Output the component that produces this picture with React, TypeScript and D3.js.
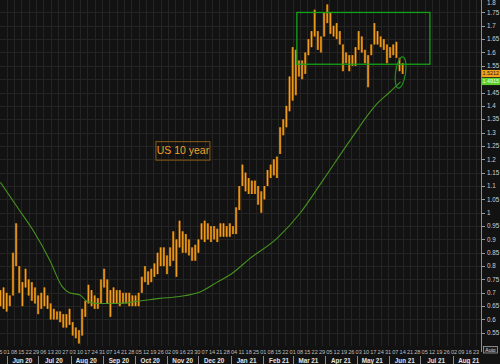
import React, { useRef, useEffect } from 'react';
import * as d3 from 'd3';

// US 10 year yield, one bar every 3 calendar days from 26 May 2020
const barStart = '2020-05-26';
const barStepDays = 3;
const barHigh = [
  0.71, 0.72, 0.70, 0.69, 0.85, 0.96, 0.80, 0.74, 0.79, 0.75,
  0.74, 0.72, 0.69, 0.70, 0.72, 0.69, 0.66, 0.64, 0.63, 0.63,
  0.62, 0.62, 0.64, 0.59, 0.57, 0.56, 0.64, 0.67, 0.73, 0.71,
  0.69, 0.68, 0.75, 0.79, 0.75, 0.71, 0.72, 0.71, 0.71, 0.70,
  0.70, 0.70, 0.69, 0.69, 0.70, 0.76, 0.80, 0.78, 0.79, 0.81,
  0.85, 0.87, 0.87, 0.84, 0.87, 0.93, 0.90, 0.97, 0.93, 0.92,
  0.90, 0.87, 0.88, 0.90, 0.96, 0.97, 0.96, 0.95, 0.95, 0.94,
  0.96, 0.96, 0.95, 0.96, 0.95, 1.02, 1.10, 1.18, 1.15, 1.13,
  1.12, 1.12, 1.10, 1.08, 1.10, 1.16, 1.18, 1.20, 1.21, 1.32,
  1.35, 1.40, 1.51, 1.62, 1.61, 1.57, 1.57, 1.60, 1.65, 1.68,
  1.76, 1.68, 1.66, 1.75, 1.78, 1.75, 1.70, 1.71, 1.68, 1.63,
  1.60, 1.59, 1.59, 1.62, 1.68, 1.66, 1.61, 1.59, 1.63, 1.71,
  1.68, 1.66, 1.65, 1.63, 1.62, 1.63, 1.64, 1.58, 1.56,
];
const barLow = [
  0.65, 0.64, 0.63, 0.65, 0.69, 0.80, 0.70, 0.65, 0.72, 0.69,
  0.67, 0.66, 0.62, 0.64, 0.65, 0.64, 0.60, 0.60, 0.60, 0.59,
  0.57, 0.57, 0.58, 0.54, 0.53, 0.51, 0.54, 0.61, 0.66, 0.65,
  0.64, 0.64, 0.66, 0.72, 0.66, 0.61, 0.66, 0.66, 0.65, 0.66,
  0.66, 0.65, 0.65, 0.65, 0.65, 0.70, 0.74, 0.73, 0.74, 0.76,
  0.77, 0.80, 0.80, 0.77, 0.80, 0.82, 0.76, 0.87, 0.85, 0.85,
  0.84, 0.82, 0.82, 0.85, 0.90, 0.89, 0.90, 0.89, 0.90, 0.89,
  0.91, 0.91, 0.91, 0.91, 0.92, 0.92, 1.01, 1.10, 1.08, 1.07,
  1.07, 1.07, 1.03, 1.00, 1.05, 1.10, 1.13, 1.14, 1.13, 1.22,
  1.29, 1.32, 1.38, 1.42, 1.44, 1.51, 1.50, 1.52, 1.59, 1.62,
  1.66, 1.61, 1.60, 1.66, 1.71, 1.67, 1.66, 1.65, 1.63, 1.53,
  1.56, 1.53, 1.55, 1.55, 1.61, 1.60, 1.56, 1.47, 1.59, 1.63,
  1.63, 1.62, 1.61, 1.56, 1.58, 1.59, 1.58, 1.53, 1.52,
];

// moving average (green line)
const maDates = [
  '2020-05-26', '2020-06-13', '2020-06-26', '2020-07-12', '2020-07-24', '2020-07-31',
  '2020-08-10', '2020-08-17', '2020-08-29', '2020-09-14', '2020-10-06', '2020-10-25',
  '2020-11-13', '2020-12-03', '2020-12-19', '2021-01-03', '2021-01-19', '2021-02-14',
  '2021-03-08', '2021-03-30', '2021-04-25', '2021-05-21', '2021-06-02', '2021-06-12',
];
const maValues = [
  1.114, 1.01, 0.935, 0.823, 0.723, 0.70,
  0.692, 0.667, 0.66, 0.66, 0.669, 0.679,
  0.686, 0.704, 0.74, 0.775, 0.828, 0.904,
  0.998, 1.122, 1.272, 1.41, 1.453, 1.49,
];

const yTickValues = [
  0.55, 0.6, 0.65, 0.7, 0.75, 0.8, 0.85, 0.9, 0.95, 1, 1.05, 1.1, 1.15,
  1.2, 1.25, 1.3, 1.35, 1.4, 1.45, 1.5, 1.55, 1.6, 1.65, 1.7, 1.75, 1.8,
];
// labels hidden behind the last-value tags
const hiddenTickLabels = [1.5];
const lastYield = 1.5212;
const lastAverage = 1.4915;
const chartTitle = 'US 10 year';

// range box and circled last bars
const rangeBox = { from: '2021-03-05', to: '2021-07-10', top: 1.75, bottom: 1.556 };
const circled = { date: '2021-06-12', value: 1.525, halfHeight: 0.059 };

const USTenYearChart = () => {
  const chartRef = useRef(null);

  useEffect(() => {
    const container = d3.select(chartRef.current);
    container.selectAll('svg').remove();

    const width = 500;
    const height = 364;
    const plotRight = 481;
    const plotBottom = 346;
    const parse = d3.timeParse('%Y-%m-%d');

    const svg = container.append('svg')
      .attr('width', width)
      .attr('height', height)
      .style('position', 'absolute')
      .style('left', '0px')
      .style('top', '0px')
      .style('background', '#121212')
      .style('font-family', 'Arial, "Liberation Sans", sans-serif');

    const xScale = d3.scaleTime()
      .domain([parse('2020-06-01'), parse('2021-08-23')])
      .range([6.7, 476]);
    const yScale = d3.scaleLinear()
      .domain([1, 1.8])
      .range([212.7, -0.9]);

    svg.append('clipPath').attr('id', 'plot-clip')
      .append('rect').attr('x', 0).attr('y', 0).attr('width', plotRight).attr('height', plotBottom);

    const plot = svg.append('g').attr('clip-path', 'url(#plot-clip)');

    // grid
    const weeks = d3.timeMonday.range(parse('2020-05-25'), parse('2021-08-24'));
    plot.selectAll('.vgrid')
      .data(weeks)
      .enter()
      .append('line')
      .attr('x1', (d: any) => Math.round(xScale(d)) + 0.5)
      .attr('x2', (d: any) => Math.round(xScale(d)) + 0.5)
      .attr('y1', 0)
      .attr('y2', plotBottom)
      .attr('stroke', '#242424');
    plot.selectAll('.hgrid')
      .data(yTickValues)
      .enter()
      .append('line')
      .attr('x1', 0)
      .attr('x2', plotRight)
      .attr('y1', (d: any) => Math.round(yScale(d)) + 0.5)
      .attr('y2', (d: any) => Math.round(yScale(d)) + 0.5)
      .attr('stroke', '#242424');

    // price bars
    const bars = barHigh.map((h, i) => ({
      date: d3.timeDay.offset(parse(barStart), i * barStepDays),
      high: h,
      low: barLow[i],
    }));
    plot.selectAll('.bar-dark')
      .data(bars)
      .enter()
      .append('line')
      .attr('x1', (d: any) => xScale(d.date))
      .attr('x2', (d: any) => xScale(d.date))
      .attr('y1', (d: any) => yScale(d.high))
      .attr('y2', (d: any) => yScale(d.low))
      .attr('stroke', '#a9640e')
      .attr('stroke-width', 2.3);
    plot.selectAll('.bar-light')
      .data(bars)
      .enter()
      .append('line')
      .attr('x1', (d: any) => xScale(d.date))
      .attr('x2', (d: any) => xScale(d.date))
      .attr('y1', (d: any) => yScale(d.high))
      .attr('y2', (d: any) => yScale(d.low))
      .attr('stroke', '#f7a51c')
      .attr('stroke-width', 1);

    // moving average
    const ma = maDates.map((d, i) => ({ date: parse(d), value: maValues[i] }));
    const maLine = d3.line<any>()
      .x((d) => xScale(d.date))
      .y((d) => yScale(d.value))
      .curve(d3.curveMonotoneX);
    plot.append('path')
      .attr('d', maLine(ma))
      .attr('fill', 'none')
      .attr('stroke', '#46931f')
      .attr('stroke-width', 1.1);

    // annotations
    plot.append('rect')
      .attr('x', xScale(parse(rangeBox.from)))
      .attr('y', yScale(rangeBox.top))
      .attr('width', xScale(parse(rangeBox.to)) - xScale(parse(rangeBox.from)))
      .attr('height', yScale(rangeBox.bottom) - yScale(rangeBox.top))
      .attr('fill', 'none')
      .attr('stroke', '#17a317')
      .attr('stroke-width', 1.3);

    const cx = xScale(parse(circled.date));
    const cy = yScale(circled.value);
    plot.append('ellipse')
      .attr('cx', cx)
      .attr('cy', cy)
      .attr('rx', 5)
      .attr('ry', yScale(circled.value - circled.halfHeight) - cy)
      .attr('transform', `rotate(8, ${cx}, ${cy})`)
      .attr('fill', 'none')
      .attr('stroke', '#1e8f1e')
      .attr('stroke-width', 1.2);

    const titleX = xScale(parse('2020-10-21'));
    const titleY = yScale(1.268);
    svg.append('rect')
      .attr('x', titleX + 0.5)
      .attr('y', titleY + 0.5)
      .attr('width', 54)
      .attr('height', 18.5)
      .attr('fill', 'none')
      .attr('stroke', '#8a5a14')
      .attr('stroke-width', 1);
    svg.append('text')
      .attr('x', titleX + 27.5)
      .attr('y', titleY + 13.3)
      .attr('text-anchor', 'middle')
      .attr('font-size', 10.5)
      .attr('fill', '#f0a22a')
      .text(chartTitle);

    // right axis
    svg.append('line')
      .attr('x1', plotRight + 0.5)
      .attr('x2', plotRight + 0.5)
      .attr('y1', 0)
      .attr('y2', 352)
      .attr('stroke', '#8f8f8f');
    const yAxis = svg.append('g');
    yAxis.selectAll('line')
      .data(yTickValues)
      .enter()
      .append('line')
      .attr('x1', plotRight + 1)
      .attr('x2', plotRight + 4)
      .attr('y1', (d: any) => Math.round(yScale(d)) + 0.5)
      .attr('y2', (d: any) => Math.round(yScale(d)) + 0.5)
      .attr('stroke', '#9a9a9a');
    yAxis.selectAll('text')
      .data(yTickValues.filter((v) => !hiddenTickLabels.includes(v)))
      .enter()
      .append('text')
      .attr('x', plotRight + 6)
      .attr('y', (d: any) => Math.max(yScale(d), 2.6))
      .attr('dy', '0.35em')
      .attr('font-size', 6.3)
      .attr('fill', '#cfcfcf')
      .text((d: any) => String(+d.toFixed(2)));

    const tags = [
      { value: lastYield, fill: '#f0a01e', color: '#1a1a1a' },
      { value: lastAverage, fill: '#5ccf28', color: '#f4fff0' },
    ];
    tags.forEach((t) => {
      const ty = yScale(t.value);
      svg.append('rect')
        .attr('x', plotRight + 1)
        .attr('y', ty - 3.6)
        .attr('width', width - plotRight - 1)
        .attr('height', 7.2)
        .attr('fill', t.fill);
      svg.append('text')
        .attr('x', plotRight + 1.5)
        .attr('y', ty)
        .attr('dy', '0.35em')
        .attr('font-size', 5.4)
        .attr('fill', t.color)
        .text(t.value.toFixed(4));
    });

    // bottom axis
    const xAxis = svg.append('g');
    xAxis.selectAll('.week')
      .data(weeks)
      .enter()
      .append('text')
      .attr('x', (d: any) => xScale(d))
      .attr('y', 353.5)
      .attr('text-anchor', 'middle')
      .attr('font-size', 5.6)
      .attr('fill', '#bdbdbd')
      .text((d: any) => d3.timeFormat('%d')(d));

    const months = d3.timeMonth.range(parse('2020-06-01'), parse('2021-09-01'));
    xAxis.selectAll('.sep')
      .data(months)
      .enter()
      .append('line')
      .attr('x1', (d: any) => Math.round(xScale(d)) + 0.5)
      .attr('x2', (d: any) => Math.round(xScale(d)) + 0.5)
      .attr('y1', 356)
      .attr('y2', 364)
      .attr('stroke', '#8a8a8a');
    xAxis.selectAll('.month')
      .data(months)
      .enter()
      .append('text')
      .attr('x', (d: any) => xScale(d3.timeDay.offset(d, 15)))
      .attr('y', 362.5)
      .attr('text-anchor', 'middle')
      .attr('font-size', 6.3)
      .attr('font-weight', 'bold')
      .attr('fill', '#e2e2e2')
      .text((d: any) => d3.timeFormat('%b %y')(d));

    svg.append('rect')
      .attr('x', 483.5)
      .attr('y', 346.5)
      .attr('width', 14)
      .attr('height', 6.5)
      .attr('fill', '#1e1e1e')
      .attr('stroke', '#a0a0a0')
      .attr('stroke-width', 0.8);
    svg.append('text')
      .attr('x', 490.5)
      .attr('y', 351.8)
      .attr('text-anchor', 'middle')
      .attr('font-size', 5)
      .attr('fill', '#dddddd')
      .text('Auto');
  }, []);

  return (
    <div ref={chartRef}></div>
  );
};

export default USTenYearChart;
